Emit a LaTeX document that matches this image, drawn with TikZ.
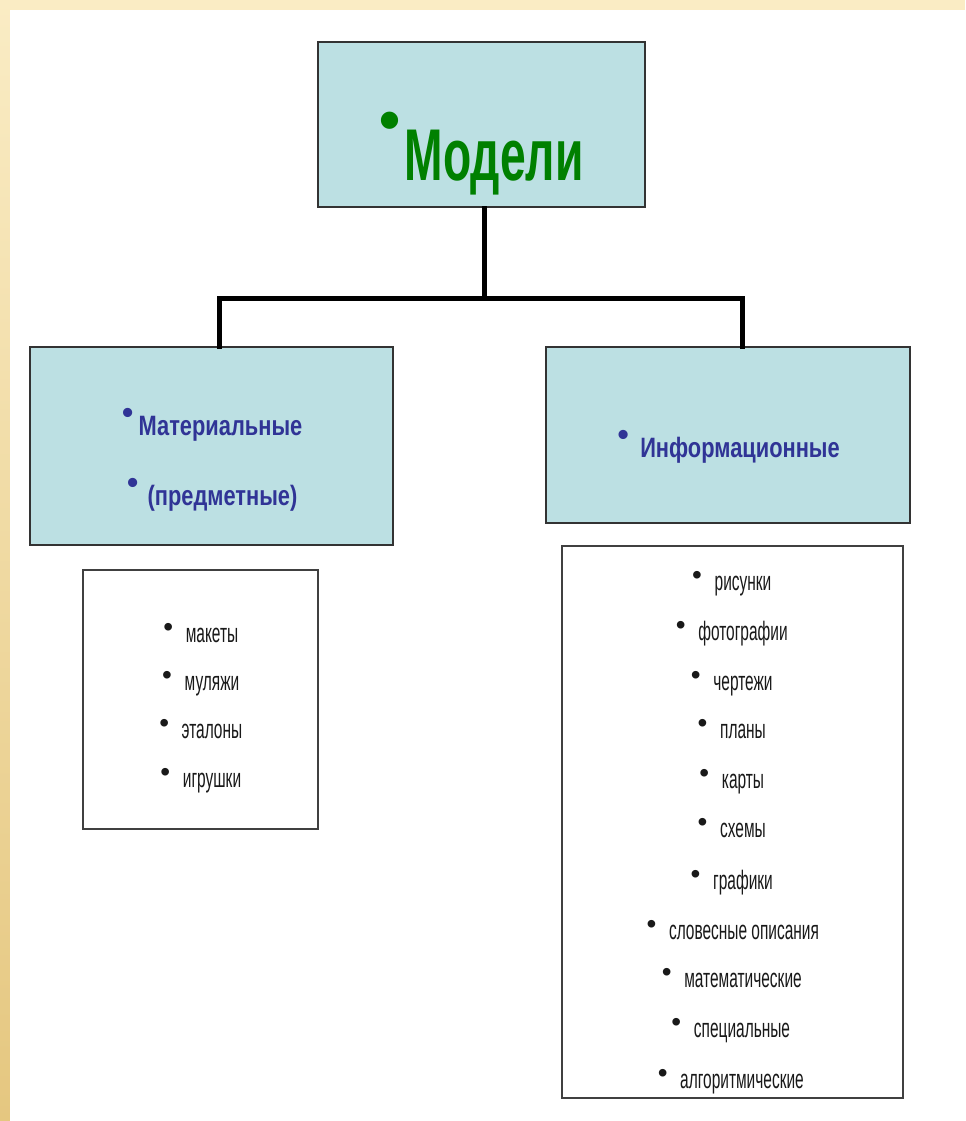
\documentclass[tikz,border=0pt]{standalone}
\usepackage{fontspec}
\setmainfont{Liberation Sans}
\newfontfamily\titlefont[FakeStretch=0.63]{Liberation Sans}
\newfontfamily\headfont[FakeStretch=0.78]{Liberation Sans}
\newfontfamily\itemfont[FakeStretch=0.58]{Liberation Sans}
\newfontfamily\bulfont{Liberation Sans}
\usetikzlibrary{positioning}
\definecolor{boxblue}{RGB}{188,224,227}
\definecolor{titlegreen}{RGB}{0,128,0}
\definecolor{headblue}{RGB}{48,52,150}
\definecolor{slidepale}{RGB}{250,236,196}
\definecolor{slidedark}{RGB}{229,199,128}
% bullet hung left of the text: size, raise, gap
\newcommand{\bul}[3]{\llap{{\bulfont\fontsize{#1}{#1}\selectfont\raisebox{#2}{\char"2022}}\hspace{#3}}}
\tikzset{
    bluebox/.style={draw=black!80, fill=boxblue, line width=1.5pt, inner sep=0pt},
    listbox/.style={draw=black!75, fill=white, line width=1.2pt, inner sep=0pt},
    link/.style={line width=3.75pt, line cap=rect},
    titletext/.style={anchor=base, inner sep=0pt, text=titlegreen, font=\titlefont\bfseries\fontsize{55pt}{55pt}\selectfont},
    headtext/.style={anchor=base, inner sep=0pt, text=headblue, font=\headfont\bfseries\fontsize{21pt}{21pt}\selectfont},
    itemtext/.style={anchor=base, inner sep=0pt, text=black!90, font=\itemfont\fontsize{20pt}{20pt}\selectfont}}
\newcommand{\ibul}{\bul{21pt}{4pt}{9.5pt}}
\newcommand{\hbul}[1]{\bul{24pt}{8.5pt}{#1}}

\begin{document}
\begin{tikzpicture}[x=0.75pt, y=-0.75pt]
\useasboundingbox (0,0) rectangle (965,1121);
% slide background
\fill[slidepale] (0,0) rectangle (965,10);
\shade[top color=slidepale, bottom color=slidedark] (0,0) rectangle (10,1121);
\fill[white] (10,10) rectangle (965,1121);

\node[bluebox, minimum width=327*0.75pt, minimum height=165*0.75pt] (models) at (481.5,124.5) {};
\node[bluebox, minimum width=363*0.75pt, minimum height=198*0.75pt] (matbox) at (211.5,446) {};
\node[bluebox, minimum width=364*0.75pt, minimum height=176*0.75pt] (infbox) at (728,435) {};
\node[listbox, minimum width=235*0.75pt, minimum height=259*0.75pt] (matlist) at (200.5,699.5) {};
\node[listbox, minimum width=341*0.75pt, minimum height=552*0.75pt] (inflist) at (732.5,822) {};

\coordinate (j0) at (484.5,298);
\coordinate (jl) at (219.5,298);
\coordinate (jr) at (742.5,298);
\draw [link] (models.south -| j0) -- (j0);
\draw [link] (jl) -- (jr);
\draw [link] (jl) -- (jl |- matbox.north);
\draw [link] (jr) -- (jr |- infbox.north);

\node[titletext] (modtxt) at (494,180) {\bul{45pt}{30pt}{3pt}Модели};
\node[headtext] (mat1) at (220.5,435) {\hbul{4pt}Материальные};
\node[headtext] (mat2) at (222.5,505) {\hbul{7pt}(предметные)};
\node[headtext] (inf1) at (740,457) {\hbul{8.5pt}Информационные};

\node[itemtext] (m1) at (212,642) {\ibul макеты};
\node[itemtext] (m2) at (212,690) {\ibul муляжи};
\node[itemtext] (m3) at (212,738) {\ibul эталоны};
\node[itemtext] (m4) at (212,787) {\ibul игрушки};

\node[itemtext] (i1) at (743,590) {\ibul рисунки};
\node[itemtext] (i2) at (743,640) {\ibul фотографии};
\node[itemtext] (i3) at (743,690) {\ibul чертежи};
\node[itemtext] (i4) at (743,738) {\ibul планы};
\node[itemtext] (i5) at (743,788) {\ibul карты};
\node[itemtext] (i6) at (743,837) {\ibul схемы};
\node[itemtext] (i7) at (743,889) {\ibul графики};
\node[itemtext] (i8) at (744,939) {\ibul словесные описания};
\node[itemtext] (i9) at (743,987) {\ibul математические};
\node[itemtext] (i10) at (742,1037) {\ibul специальные};
\node[itemtext] (i11) at (742,1088) {\ibul алгоритмические};
\end{tikzpicture}
\end{document}
